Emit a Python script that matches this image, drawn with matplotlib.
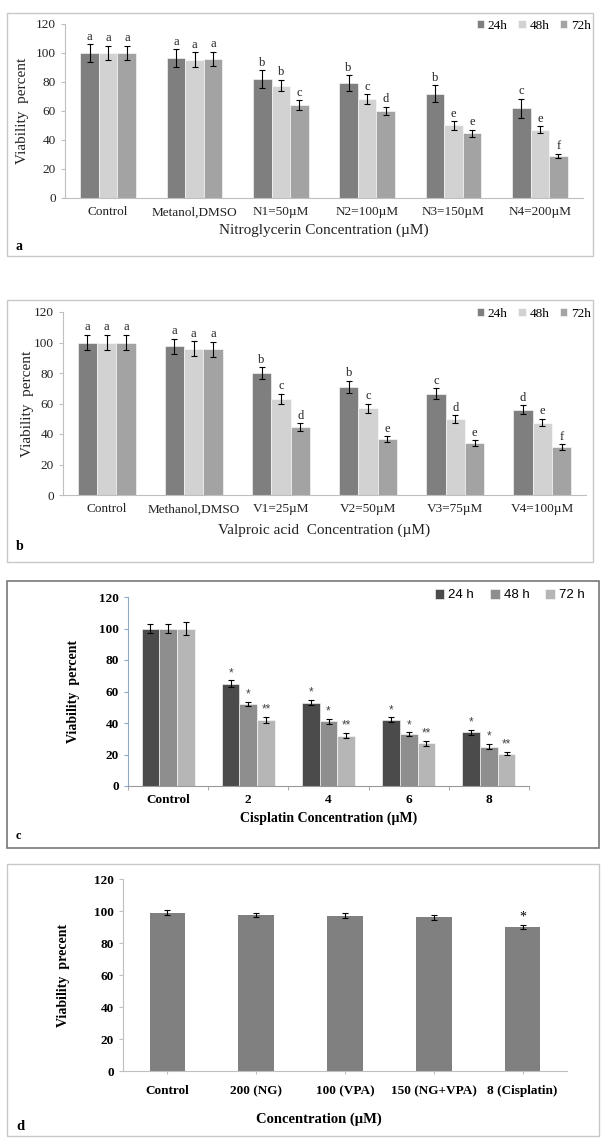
import matplotlib
matplotlib.use('Agg')
import matplotlib.pyplot as plt
from matplotlib.patches import Rectangle
import numpy as np

W, H = 606, 1147

# ---- data, panel a (Nitroglycerin)
a_cats = ['Control', 'Metanol,DMSO', 'N1=50µM', 'N2=100µM', 'N3=150µM', 'N4=200µM']
a_24 = [100, 96.5, 82, 79, 72, 62]
a_48 = [100, 95.5, 77.5, 68, 50, 47]
a_72 = [100, 96, 64, 60, 44.5, 29]
a_err24 = [6, 6, 6, 5.5, 6, 6.5]
a_err48 = [5, 5, 4, 3.5, 3, 2.5]
a_err72 = [5, 5, 3.5, 3, 2.5, 1.5]
a_let24 = ['a', 'a', 'b', 'b', 'b', 'c']
a_let48 = ['a', 'a', 'b', 'c', 'e', 'e']
a_let72 = ['a', 'a', 'c', 'd', 'e', 'f']

# ---- data, panel b (Valproic acid)
b_cats = ['Control', 'Methanol,DMSO', 'V1=25µM', 'V2=50µM', 'V3=75µM', 'V4=100µM']
b_24 = [100, 97.5, 80, 71, 66.5, 56]
b_48 = [100, 96, 63, 57, 50, 47.5]
b_72 = [100, 95.5, 44.5, 36.5, 34, 31.5]
b_err24 = [5, 5, 4, 4, 3.5, 3]
b_err48 = [5, 5, 3.5, 3, 2.5, 2.5]
b_err72 = [5, 5, 2.5, 2, 2, 2]
b_let24 = ['a', 'a', 'b', 'b', 'c', 'd']
b_let48 = ['a', 'a', 'c', 'c', 'd', 'e']
b_let72 = ['a', 'a', 'd', 'e', 'e', 'f']

# ---- data, panel c (Cisplatin)
c_cats = ['Control', '2', '4', '6', '8']
c_24 = [100, 65, 53, 42, 34]
c_48 = [100, 52, 41, 33, 25]
c_72 = [100, 42, 32, 27, 20.5]
c_err24 = [3, 2, 1.5, 1.5, 1.5]
c_err48 = [3, 1.5, 1.5, 1, 1.5]
c_err72 = [4, 2, 1.5, 1.5, 1]
c_sig24 = ['', '*', '*', '*', '*']
c_sig48 = ['', '*', '*', '*', '*']
c_sig72 = ['', '**', '**', '**', '**']

# ---- data, panel d (combined)
d_cats = ['Control', '200 (NG)', '100 (VPA)', '150 (NG+VPA)', '8 (Cisplatin)']
d_vals = [99, 97.5, 97, 96, 90]
d_err = [1.5, 1.5, 1.5, 1.5, 1.5]
d_sig = ['', '', '', '', '*']

series_labels_ab = ['24h', '48h', '72h']
series_labels_c = ['24 h', '48 h', '72 h']

SERIF = 'Liberation Serif'
SANS = 'Liberation Sans'

fig = plt.figure(figsize=(W / 100, H / 100), dpi=100)


def px_axes(x0, y0, x1, y1):
    # pixel box (top-left origin) -> axes
    return fig.add_axes([x0 / W, 1 - y1 / H, (x1 - x0) / W, (y1 - y0) / H])


def px_box(x0, y0, x1, y1, color, lw=1.0):
    fig.patches.append(Rectangle((x0 / W, 1 - y1 / H), (x1 - x0) / W, (y1 - y0) / H,
                                 transform=fig.transFigure, fill=False,
                                 edgecolor=color, linewidth=lw))


def px_text(x, y, s, **kw):
    fig.text(x / W, 1 - y / H, s, **kw)


def grouped(ax, cats, vals, errs, labels, colors, width, marks, names, mark_font):
    x = np.arange(len(cats))
    offs = [-width, 0, width]
    for v, e, lab, col, off, mk in zip(vals, errs, labels, colors, offs, marks):
        ax.bar(x + off, v, width, color=col, edgecolor='white', linewidth=0.4, label=lab,
               yerr=e, error_kw=dict(ecolor='black', elinewidth=0.8, capsize=2.5, capthick=0.8))
        for xi, vi, ei, m in zip(x + off, v, e, mk):
            if m:
                ax.annotate(m, (xi, vi + ei), xytext=(0, 1), textcoords='offset points',
                            ha='center', va='bottom', **mark_font)
    ax.set_xlim(-0.5, len(cats) - 0.5)
    ax.set_ylim(0, 120)
    ax.set_yticks(range(0, 121, 20))
    ax.set_xticks(x)
    ax.set_xticklabels(names)


# ================= panel a
px_box(7, 13, 593, 256, '#c8c8c8')
ax = px_axes(65, 24, 583, 198)
ab_cols = ['#7f7f7f', '#d2d2d2', '#a3a3a3']
grouped(ax, a_cats, [a_24, a_48, a_72], [a_err24, a_err48, a_err72], series_labels_ab, ab_cols,
        0.216, [a_let24, a_let48, a_let72], a_cats, dict(family=SERIF, fontsize=9, color='#222222'))
ax_a = ax

# ================= panel b
px_box(7, 300, 593, 562, '#c8c8c8')
ax = px_axes(63, 312, 586, 495)
grouped(ax, b_cats, [b_24, b_48, b_72], [b_err24, b_err48, b_err72], series_labels_ab, ab_cols,
        0.222, [b_let24, b_let48, b_let72], b_cats, dict(family=SERIF, fontsize=9, color='#222222'))
ax_b = ax

for ax, xl, ylx, xly, lab, laby, legy in [(ax_a, 'Nitroglycerin Concentration (µM)', 23, 230, 'a', 246, 20),
                                           (ax_b, 'Valproic acid  Concentration (µM)', 28, 530, 'b', 547, 308)]:
    for s in ['top', 'right']:
        ax.spines[s].set_visible(False)
    ax.spines['left'].set_color('#bfbfbf')
    ax.spines['bottom'].set_color('#bfbfbf')
    ax.tick_params(axis='x', length=0, pad=6, labelsize=9.5, labelcolor='#222222')
    ax.tick_params(axis='y', length=3, color='#bfbfbf', labelsize=9.5, labelcolor='#222222')
    for t in ax.get_xticklabels() + ax.get_yticklabels():
        t.set_family(SERIF)
    bb = ax.get_position()
    cy = (1 - bb.y0 - bb.height / 2) * H
    px_text(ylx, cy, 'Viability  percent', rotation=90, ha='center', va='center',
            family=SERIF, fontsize=11, color='#222222')
    px_text((bb.x0 + bb.width / 2) * W, xly, xl, ha='center', va='center',
            family=SERIF, fontsize=11, color='#222222')
    px_text(16, laby, lab, ha='left', va='center', family=SERIF, fontsize=10, weight='bold')
    ax.legend(loc='upper right', bbox_to_anchor=(591 / W, 1 - legy / H), bbox_transform=fig.transFigure,
              frameon=False, ncol=3, handlelength=0.55, handleheight=0.55, handletextpad=0.3,
              columnspacing=0.8, borderaxespad=0, borderpad=0,
              prop=dict(family=SERIF, size=9.5))

# ================= panel c
px_box(7, 581, 599, 848, '#777777', lw=1.2)
ax = px_axes(128, 597, 529, 786)
c_cols = ['#4b4b4b', '#8e8e8e', '#b6b6b6']
grouped(ax, c_cats, [c_24, c_48, c_72], [c_err24, c_err48, c_err72], series_labels_c, c_cols,
        0.22, [c_sig24, c_sig48, c_sig72], c_cats, dict(family=SANS, fontsize=8.5, color='#444444'))
for s in ['top', 'right']:
    ax.spines[s].set_visible(False)
ax.spines['left'].set_color('#8fa8c8')
ax.spines['bottom'].set_color('#9a9a9a')
ax.set_xticks(np.arange(len(c_cats) + 1) - 0.5, minor=True)
ax.tick_params(axis='x', which='major', length=0, pad=6)
ax.tick_params(axis='x', which='minor', length=3, color='#9a9a9a')
ax.tick_params(axis='y', length=3, color='#8fa8c8')
for t in ax.get_xticklabels() + ax.get_yticklabels():
    t.set_family(SERIF)
    t.set_weight('bold')
    t.set_fontsize(9.5)
px_text(73, (597 + 786) / 2, 'Viability  percent', rotation=90, ha='center', va='center',
        family=SERIF, fontsize=10, weight='bold')
px_text(329, 818, 'Cisplatin Concentration (µM)', ha='center', va='center',
        family=SERIF, fontsize=10, weight='bold')
px_text(16, 836, 'c', ha='left', va='center', family=SERIF, fontsize=9, weight='bold')
ax.legend(loc='upper right', bbox_to_anchor=(585 / W, 1 - 589 / H), bbox_transform=fig.transFigure,
          frameon=False, ncol=3, handlelength=0.75, handleheight=0.75, handletextpad=0.3,
          columnspacing=1.2, borderaxespad=0, borderpad=0,
          prop=dict(family=SANS, size=9.5))

# ================= panel d
px_box(7, 864, 599, 1136, '#c8c8c8')
ax = px_axes(123, 879, 567, 1071)
xd = np.arange(len(d_cats))
ax.bar(xd, d_vals, 0.40, color='#808080', yerr=d_err,
       error_kw=dict(ecolor='black', elinewidth=0.8, capsize=2.5, capthick=0.8))
for xi, vi, ei, m in zip(xd, d_vals, d_err, d_sig):
    if m:
        ax.annotate(m, (xi, vi + ei), xytext=(0, 1), textcoords='offset points',
                    ha='center', va='bottom', family=SERIF, fontsize=10)
ax.set_xlim(-0.5, len(d_cats) - 0.5)
ax.set_ylim(0, 120)
ax.set_yticks(range(0, 121, 20))
ax.set_xticks(xd)
ax.set_xticklabels(d_cats)
for s in ['top', 'right']:
    ax.spines[s].set_visible(False)
ax.spines['left'].set_color('#bfbfbf')
ax.spines['bottom'].set_color('#bfbfbf')
ax.tick_params(axis='x', length=2, color='#bfbfbf', pad=8)
ax.tick_params(axis='y', length=3, color='#bfbfbf')
for t in ax.get_xticklabels() + ax.get_yticklabels():
    t.set_family(SERIF)
    t.set_weight('bold')
    t.set_fontsize(9.5)
px_text(63, (879 + 1071) / 2, 'Viability  precent', rotation=90, ha='center', va='center',
        family=SERIF, fontsize=10, weight='bold')
px_text(319, 1119, 'Concentration (µM)', ha='center', va='center',
        family=SERIF, fontsize=10.5, weight='bold')
px_text(16, 1126, 'd', ha='left', va='center', family=SERIF, fontsize=10.5, weight='bold')

fig.savefig('out.png', dpi=100)
